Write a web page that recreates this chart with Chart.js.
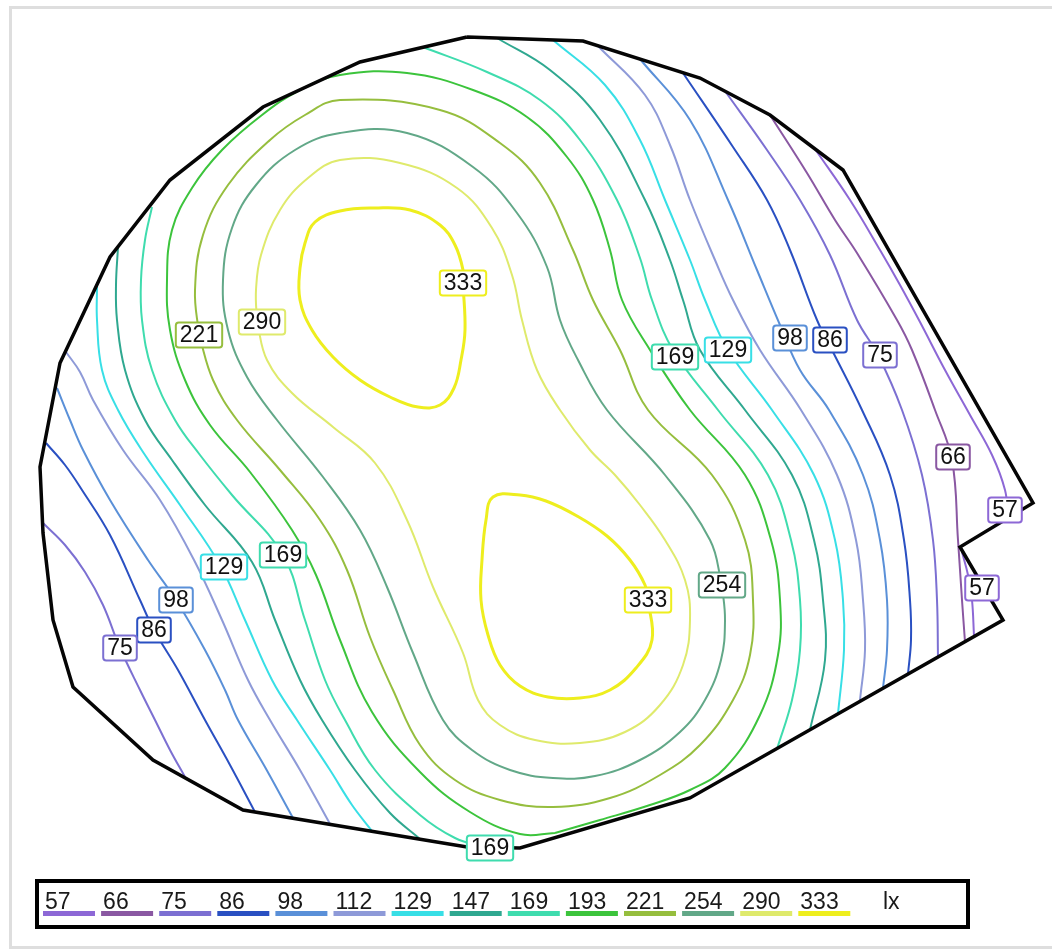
<!DOCTYPE html>
<html>
<head>
<meta charset="utf-8">
<title>Isolux diagram</title>
<script src="https://cdn.jsdelivr.net/npm/chart.js@4.4.1/dist/chart.umd.min.js"></script>
<style>
  html, body { margin: 0; padding: 0; background: #fff; }
  #wrap { position: relative; width: 1052px; height: 951px; }
</style>
</head>
<body>
<div id="wrap"><canvas id="plan"></canvas></div>
<script>
// Illuminance levels (lx) shown in the key, lowest first
const levels = [57, 66, 75, 86, 98, 112, 129, 147, 169, 193, 221, 254, 290, 333];
const levelColors = ['#8d68d6', '#8a58a2', '#7c70d2', '#2a50c2', '#5a90d8', '#8e9ad8', '#38dfe6',
                     '#2fa890', '#3fdcae', '#3cc43c', '#96be3e', '#62a888', '#dfea6c', '#eeee1e'];

// Site outline (plan units)
const outline = [[467,37],[583,41],[700,78],[770,115],[843,170],[1033,503],[960,547],[1003,620],
  [690,798],[520,848],[467,847],[243,810],[153,760],[73,687],[53,620],[43,533],[40,467],[60,363],
  [110,257],[170,180],[263,107],[360,62],[467,37]];

// Isolines, closed ones around both luminaires
const iso333a = [[463,283],[465,330],[461,360],[454,388],[440,405],[418,407],[390,397],[360,380],[333,357],
  [312,330],[300,300],[300,268],[305,243],[315,222],[340,211],[375,208],[410,210],[440,225],[455,245],[463,270],[463,283]];
const iso333b = [[648,600],[652,640],[636,668],[610,690],[580,698],[548,697],[520,686],[500,665],[488,635],
  [481,600],[482,560],[486,520],[493,497],[520,495],[546,501],[577,516],[607,536],[630,560],[645,585],[648,600]];
const iso290 = [[257,322],[267,360],[292,393],[333,427],[375,463],[407,520],[433,587],[463,653],[478,700],
  [500,725],[535,740],[580,743],[625,732],[660,705],[683,665],[690,620],[685,580],[665,540],[640,505],[615,475],
  [590,450],[560,410],[537,370],[522,320],[512,275],[492,228],[457,188],[400,163],[340,160],[308,178],[280,210],
  [261,255],[256,290],[257,322]];
const iso254 = [[722,585],[725,620],[721,660],[705,700],[680,732],[640,760],[595,776],[553,778],[510,770],
  [472,750],[443,720],[413,653],[387,587],[360,530],[323,477],[277,420],[247,377],[228,330],[223,280],[232,228],
  [256,185],[295,150],[340,133],[407,133],[473,167],[517,213],[547,267],[560,320],[578,360],[607,410],[665,475],
  [710,540],[722,585]];
const iso221 = [[199,335],[195,290],[203,235],[228,185],[270,140],[305,115],[340,100],[440,110],[500,143],
  [540,183],[573,250],[593,300],[620,350],[648,410],[712,475],[745,540],[753,600],[750,655],[733,700],[700,745],
  [660,775],[610,798],[553,807],[500,800],[455,780],[420,745],[393,690],[370,637],[347,570],[320,520],[280,470],
  [237,420],[213,380],[199,335]];
const iso193 = [[555,833],[520,834],[470,812],[420,772],[372,712],[340,640],[316,575],[292,530],[250,472],
  [210,425],[185,380],[170,330],[167,280],[172,230],[192,188],[222,150],[262,115],[300,90],[340,75],[407,73],
  [473,90],[527,117],[567,157],[593,200],[610,250],[622,300],[650,350],[690,410],[745,475],[771,540],[780,600],
  [778,655],[760,715],[725,768],[690,790],[650,805],[600,820],[555,833]];

// Isolines cut by the outline: upper-right arcs
const iso169r = [[423,47],[487,72],[540,100],[580,140],[617,200],[640,258],[652,300],[673,350],[718,410],
  [768,475],[791,540],[800,600],[800,650],[792,700],[777,749]];
const iso147r = [[497,38],[550,70],[600,120],[645,200],[670,260],[683,300],[700,350],[745,410],[792,475],
  [814,540],[823,600],[825,660],[810,730]];
const iso129r = [[553,40],[605,85],[640,140],[665,200],[690,260],[705,300],[728,350],[772,410],[814,475],
  [835,540],[843,600],[844,650],[838,714]];
const iso112r = [[598,46],[645,95],[670,145],[690,200],[715,260],[733,300],[760,350],[801,410],[837,475],
  [856,540],[863,600],[865,650],[860,700]];
const iso98r = [[640,59],[690,120],[728,200],[757,270],[780,325],[800,370],[829,410],[863,475],[880,540],
  [887,600],[887,650],[883,688]];
const iso86r = [[683,73],[733,147],[767,200],[790,250],[817,320],[832,350],[862,410],[890,475],[904,540],
  [910,600],[911,640],[908,674]];
const iso75r = [[725,91],[767,150],[800,200],[830,255],[857,320],[878,355],[902,410],[922,475],[933,540],
  [937,600],[938,658]];
const iso66r = [[770,115],[807,173],[835,220],[857,253],[897,320],[912,350],[935,410],[952,460],[958,540],
  [962,600],[965,642]];
const iso57r = [[815,149],[850,200],[880,250],[900,285],[920,322],[945,370],[970,415],[992,455],[1005,490],[1008,517]];
const iso57n = [[962,552],[968,575],[972,600],[974,636]];

// Lower-left arcs
const iso169l = [[152,207],[145,240],[141,280],[142,320],[152,370],[175,420],[200,455],[232,495],[283,555],
  [305,620],[325,680],[345,720],[375,770],[420,815],[455,838],[484,847]];
const iso147l = [[118,247],[116,285],[117,320],[125,370],[145,420],[172,460],[205,505],[252,562],[275,620],
  [300,680],[322,720],[355,770],[390,813],[420,839]];
const iso129l = [[97,287],[97,320],[102,370],[118,410],[145,455],[180,505],[220,565],[245,620],[272,680],
  [297,720],[330,770],[352,805],[372,831]];
const iso112l = [[66,352],[80,372],[93,400],[123,450],[160,500],[194,560],[222,620],[248,680],[270,720],
  [300,770],[330,824]];
const iso98l = [[57,388],[70,420],[83,450],[110,500],[148,560],[176,600],[205,650],[225,690],[238,720],
  [265,767],[293,818]];
const iso86l = [[46,443],[65,465],[82,490],[110,535],[140,600],[154,630],[178,670],[205,720],[230,765],[255,812]];
const iso75l = [[43,523],[65,545],[85,572],[103,605],[120,648],[140,690],[155,720],[170,750],[185,777]];

// Value tags placed on the isolines: [level, x, y]
const isoTags = [[333,463,283],[333,648,600],[290,262,322],[221,199,335],[169,675,357],[129,728,350],
  [98,790,338],[86,830,340],[75,880,355],[66,953,457],[57,1005,510],[57,982,588],[254,722,585],
  [169,283,555],[129,224,567],[98,176,600],[86,154,630],[75,120,648],[169,490,848]];

const isolines = [
  [333, iso333a], [333, iso333b], [290, iso290], [254, iso254], [221, iso221], [193, iso193],
  [169, iso169r], [147, iso147r], [129, iso129r], [112, iso112r], [98, iso98r], [86, iso86r],
  [75, iso75r], [66, iso66r], [57, iso57r], [57, iso57n],
  [169, iso169l], [147, iso147l], [129, iso129l], [112, iso112l], [98, iso98l], [86, iso86l], [75, iso75l]
];

const colorOf = lv => levelColors[levels.indexOf(lv)];
const toXY = pts => pts.map(([x, y]) => ({ x, y }));

const datasets = [{
  label: 'outline',
  data: toXY(outline),
  showLine: true, borderColor: '#050505', borderWidth: 3.5,
  pointRadius: 0, tension: 0, order: 0, borderJoinStyle: 'miter'
}];
isolines.forEach(([lv, pts]) => {
  datasets.push({
    label: lv + ' lx',
    data: toXY(pts),
    showLine: true,
    borderColor: colorOf(lv),
    borderWidth: lv === 333 ? 3 : 2,
    pointRadius: 0,
    tension: 0.4,
    order: 1
  });
});

// Page background and thin grey frame
const framePlugin = {
  id: 'frame',
  beforeDraw(chart) {
    const { ctx, width, height } = chart;
    ctx.save();
    ctx.fillStyle = '#fff';
    ctx.fillRect(0, 0, width, height);
    ctx.strokeStyle = '#dedede';
    ctx.lineWidth = 3;
    ctx.beginPath();
    ctx.moveTo(width, 7.5); ctx.lineTo(10.5, 7.5); ctx.lineTo(10.5, 947.5); ctx.lineTo(width, 947.5);
    ctx.stroke();
    ctx.restore();
  }
};

// Boxed value tags on the isolines
const tagPlugin = {
  id: 'isoTags',
  afterDatasetsDraw(chart) {
    const { ctx, scales: { x, y } } = chart;
    ctx.save();
    ctx.font = '23px "Liberation Sans", Arial, sans-serif';
    ctx.textAlign = 'center';
    ctx.textBaseline = 'middle';
    isoTags.forEach(([lv, vx, vy]) => {
      const px = x.getPixelForValue(vx), py = y.getPixelForValue(vy);
      const txt = String(lv);
      const w = ctx.measureText(txt).width + 8, h = 25;
      ctx.beginPath();
      ctx.roundRect(px - w / 2, py - h / 2, w, h, 3);
      ctx.fillStyle = '#fff';
      ctx.fill();
      ctx.lineWidth = 2;
      ctx.strokeStyle = colorOf(lv);
      ctx.stroke();
      ctx.fillStyle = '#111';
      ctx.fillText(txt, px, py + 1);
    });
    ctx.restore();
  }
};

// Key: level values over coloured strips, unit at the end
const keyPlugin = {
  id: 'isoKey',
  afterDraw(chart) {
    const { ctx } = chart;
    ctx.save();
    ctx.strokeStyle = '#000';
    ctx.lineWidth = 4;
    ctx.strokeRect(37, 881, 931, 46);
    ctx.font = '23px "Liberation Sans", Arial, sans-serif';
    ctx.textAlign = 'left';
    ctx.textBaseline = 'alphabetic';
    levels.forEach((lv, i) => {
      const x0 = 43 + i * 58.1;
      ctx.fillStyle = levelColors[i];
      ctx.fillRect(x0, 911, 52, 5);
      ctx.fillStyle = '#1a1a1a';
      ctx.fillText(String(lv), x0 + 2, 909);
    });
    ctx.fillText('lx', 883, 909);
    ctx.restore();
  }
};

new Chart(document.getElementById('plan'), {
  type: 'scatter',
  data: { datasets },
  options: {
    responsive: true,
    maintainAspectRatio: false,
    animation: false,
    devicePixelRatio: 1,
    layout: { padding: 0 },
    plugins: { legend: { display: false }, tooltip: { enabled: false }, title: { display: false } },
    scales: {
      x: { type: 'linear', min: 0, max: 1052, display: false },
      y: { type: 'linear', min: 0, max: 951, reverse: true, display: false }
    }
  },
  plugins: [framePlugin, tagPlugin, keyPlugin]
});
</script>
</body>
</html>
